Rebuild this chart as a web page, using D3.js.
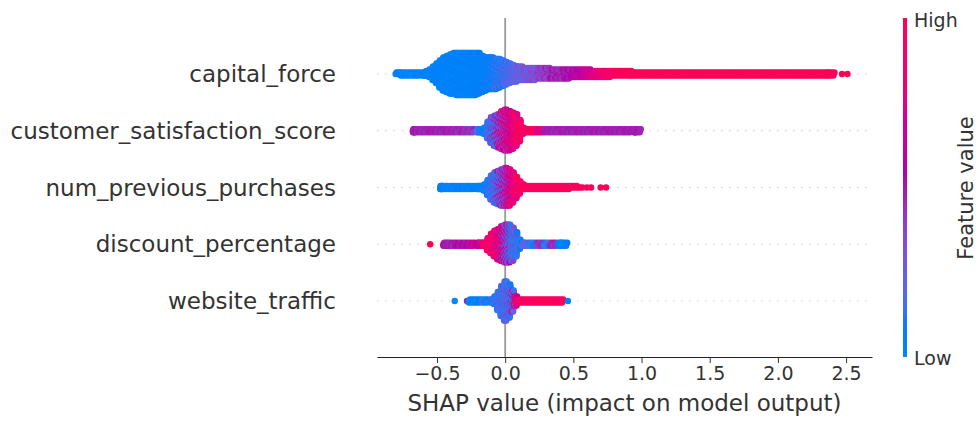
<!DOCTYPE html>
<html>
<head>
<meta charset="utf-8">
<script src="https://cdn.jsdelivr.net/npm/d3@7"></script>
<style>
  body { margin: 0; background: #fff; }
  text { font-family: "DejaVu Sans", sans-serif; }
</style>
</head>
<body>
<svg id="chart"></svg>
<script>
// ---- DATA ----
const features = ['capital_force', 'customer_satisfaction_score', 'num_previous_purchases', 'discount_percentage', 'website_traffic'];
const xTicks = [-0.5, 0, 0.5, 1, 1.5, 2, 2.5];

// each bin: [shap value, number of points, feature value low, feature value high]
const capitalForce = [
  [-0.79, 6, 0, 0.08], [-0.75, 9, 0, 0.08], [-0.70, 9, 0, 0.08], [-0.65, 9, 0, 0.08], [-0.60, 9, 0, 0.08],
  [-0.575, 12, 0, 0.08], [-0.55, 18, 0, 0.08], [-0.525, 30, 0, 0.08], [-0.50, 42, 0, 0.08], [-0.475, 57, 0, 0.08],
  [-0.45, 69, 0, 0.08], [-0.425, 75, 0, 0.08], [-0.40, 81, 0, 0.08], [-0.375, 84, 0, 0.08], [-0.35, 87, 0, 0.08],
  [-0.325, 87, 0, 0.08], [-0.30, 87, 0, 0.08], [-0.275, 87, 0, 0.08], [-0.25, 87, 0, 0.1], [-0.225, 87, 0, 0.1],
  [-0.20, 84, 0, 0.1], [-0.175, 75, 0, 0.1], [-0.15, 69, 0, 0.12], [-0.125, 66, 0, 0.12], [-0.10, 66, 0, 0.15],
  [-0.075, 63, 0, 0.2], [-0.05, 60, 0, 0.25], [-0.025, 54, 0, 0.25], [0.00, 48, 0.05, 0.3], [0.025, 42, 0.08, 0.3],
  [0.05, 36, 0.1, 0.3], [0.075, 33, 0.12, 0.32], [0.10, 30, 0.15, 0.35], [0.15, 27, 0.2, 0.35], [0.20, 27, 0.25, 0.4],
  [0.25, 24, 0.3, 0.45], [0.30, 24, 0.35, 0.5], [0.35, 21, 0.4, 0.55], [0.40, 21, 0.42, 0.55], [0.45, 21, 0.45, 0.58],
  [0.50, 18, 0.5, 0.62], [0.55, 18, 0.55, 0.68], [0.60, 18, 0.62, 0.75], [0.65, 15, 0.7, 0.82], [0.70, 15, 0.78, 0.9],
  [0.75, 15, 0.85, 0.95], [0.80, 12, 0.9, 1], [0.85, 12, 0.92, 1], [0.90, 12, 0.95, 1], [0.95, 9, 0.96, 1],
  [1.00, 9, 0.97, 1], [1.05, 9, 0.97, 1], [1.10, 9, 0.97, 1], [1.15, 9, 0.97, 1], [1.20, 9, 0.97, 1],
  [1.25, 9, 0.97, 1], [1.30, 9, 0.97, 1], [1.35, 9, 0.97, 1], [1.40, 9, 0.97, 1], [1.45, 9, 0.97, 1],
  [1.50, 9, 0.97, 1], [1.55, 9, 0.97, 1], [1.60, 9, 0.97, 1], [1.65, 9, 0.97, 1], [1.70, 9, 0.97, 1],
  [1.75, 9, 0.97, 1], [1.80, 9, 0.97, 1], [1.85, 9, 0.97, 1], [1.90, 9, 0.97, 1], [1.95, 9, 0.97, 1],
  [2.00, 9, 0.97, 1], [2.05, 9, 0.97, 1], [2.10, 9, 0.97, 1], [2.15, 9, 0.97, 1], [2.20, 9, 0.97, 1],
  [2.25, 9, 0.97, 1], [2.30, 9, 0.97, 1], [2.35, 9, 0.97, 1], [2.39, 9, 0.97, 1],
  [2.47, 1, 1, 1], [2.51, 1, 1, 1]
];

const customerSatisfaction = [
  [-0.67, 9, 0.45, 0.52], [-0.65, 9, 0.45, 0.52], [-0.60, 9, 0.45, 0.52], [-0.55, 9, 0.45, 0.52], [-0.50, 9, 0.45, 0.52],
  [-0.45, 9, 0.45, 0.52], [-0.40, 9, 0.45, 0.52], [-0.35, 9, 0.42, 0.52], [-0.30, 9, 0.4, 0.5], [-0.25, 9, 0.4, 0.5],
  [-0.20, 9, 0.05, 0.25], [-0.175, 9, 0, 0.15], [-0.15, 15, 0, 0.15], [-0.125, 36, 0, 0.3], [-0.10, 54, 0, 0.5],
  [-0.075, 63, 0, 0.6], [-0.05, 69, 0.1, 0.8], [-0.025, 78, 0.2, 0.9], [0.00, 84, 0.3, 1], [0.025, 81, 0.4, 1],
  [0.05, 75, 0.55, 1], [0.075, 66, 0.7, 1], [0.10, 45, 0.85, 1], [0.125, 15, 0.9, 1], [0.15, 9, 0.9, 1],
  [0.20, 9, 0.9, 1], [0.25, 9, 0.7, 0.85], [0.30, 9, 0.46, 0.52], [0.35, 9, 0.46, 0.52], [0.40, 9, 0.46, 0.52],
  [0.45, 9, 0.46, 0.52], [0.50, 9, 0.46, 0.52], [0.55, 9, 0.46, 0.52], [0.60, 9, 0.46, 0.52], [0.65, 9, 0.46, 0.52],
  [0.70, 9, 0.46, 0.52], [0.75, 9, 0.46, 0.52], [0.80, 9, 0.46, 0.52], [0.85, 9, 0.46, 0.52], [0.90, 9, 0.46, 0.52],
  [0.95, 9, 0.46, 0.52], [0.97, 9, 0.46, 0.52]
];

const numPreviousPurchases = [
  [-0.47, 9, 0, 0.08], [-0.45, 9, 0, 0.08], [-0.40, 9, 0, 0.08], [-0.35, 9, 0, 0.08], [-0.30, 9, 0, 0.08],
  [-0.25, 9, 0, 0.08], [-0.20, 9, 0, 0.1], [-0.175, 9, 0, 0.1], [-0.15, 15, 0, 0.15], [-0.125, 33, 0, 0.2],
  [-0.10, 51, 0, 0.3], [-0.075, 63, 0, 0.45], [-0.05, 69, 0, 0.6], [-0.025, 75, 0.1, 0.7], [0.00, 78, 0.2, 0.8],
  [0.025, 75, 0.35, 0.9], [0.05, 63, 0.5, 1], [0.075, 45, 0.7, 1], [0.10, 27, 0.85, 1], [0.125, 12, 0.9, 1],
  [0.15, 9, 0.9, 1], [0.20, 9, 0.9, 1], [0.25, 9, 0.92, 1], [0.30, 9, 0.92, 1], [0.35, 9, 0.92, 1],
  [0.40, 9, 0.92, 1], [0.45, 9, 0.92, 1], [0.50, 6, 0.92, 1], [0.55, 3, 0.92, 1], [0.60, 1, 0.95, 1],
  [0.63, 1, 0.95, 1], [0.70, 1, 0.95, 1], [0.74, 1, 0.95, 1]
];

const discountPercentage = [
  [-0.55, 1, 1, 1], [-0.44, 9, 0.45, 0.55], [-0.40, 9, 0.45, 0.55], [-0.35, 9, 0.45, 0.6], [-0.30, 9, 0.48, 0.62],
  [-0.25, 9, 0.5, 0.75], [-0.20, 9, 0.5, 0.7], [-0.175, 9, 0.6, 0.9], [-0.15, 9, 0.7, 1], [-0.125, 27, 0.75, 1],
  [-0.10, 42, 0.8, 1], [-0.075, 54, 0.7, 1], [-0.05, 63, 0.55, 1], [-0.025, 72, 0.35, 0.95], [0.00, 78, 0.15, 0.8],
  [0.025, 78, 0.05, 0.6], [0.05, 69, 0, 0.4], [0.075, 51, 0, 0.35], [0.10, 21, 0, 0.3], [0.125, 9, 0.05, 0.3],
  [0.15, 9, 0.1, 0.3], [0.20, 9, 0, 0.2], [0.25, 9, 0.38, 0.5], [0.30, 9, 0.05, 0.25], [0.35, 9, 0.42, 0.52],
  [0.40, 9, 0, 0.1], [0.43, 9, 0, 0.1]
];

const websiteTraffic = [
  [-0.37, 1, 0, 0], [-0.28, 1, 0.5, 0.5], [-0.25, 9, 0, 0.1], [-0.20, 9, 0, 0.1], [-0.15, 9, 0, 0.2],
  [-0.10, 9, 0, 0.2], [-0.075, 18, 0, 0.25], [-0.05, 39, 0, 0.3], [-0.025, 63, 0, 0.35], [0.00, 81, 0, 0.4],
  [0.025, 69, 0, 0.45], [0.05, 45, 0, 0.6], [0.075, 21, 0.3, 1], [0.10, 9, 0.8, 1], [0.15, 9, 0.9, 1],
  [0.20, 9, 0.9, 1], [0.25, 9, 0.9, 1], [0.30, 9, 0.9, 1], [0.35, 9, 0.9, 1], [0.40, 9, 0.9, 1],
  [0.46, 1, 0.05, 0.05]
];

const featureBins = [capitalForce, customerSatisfaction, numPreviousPurchases, discountPercentage, websiteTraffic];


// shap red_blue colormap: LCH blend, lightness dips to 40 in the middle
function shapRedBlue(t) {
  const l = t < 0.5 ? 54 - 28 * t : 40 + 28 * (t - 0.5);
  const c = 70 + 20 * t;
  const h = 266.93 + (380.32 - 266.93) * t;
  return d3.hcl(h, c, l).formatHex();
}


class BeeswarmPlot {

  constructor(_config, _data) {
    this.config = {
      parentElement: _config.parentElement,
      containerWidth: _config.containerWidth || 979,
      containerHeight: _config.containerHeight || 421,
      plotLeft: 377, plotRight: 872, plotTop: 18, plotBottom: 357,
      rowTop: 74, rowBottom: 301,
      maxBinGap: 0.05,
      subColumns: 3,
      dotRadius: 3.2,
      dotStep: 1.5
    }
    this.data = _data;
    this.initVis();
  }

  initVis() {
    let vis = this;
    const c = vis.config;

    vis.svg = d3.select(c.parentElement)
      .attr('width', c.containerWidth)
      .attr('height', c.containerHeight);

    vis.xScale = d3.scaleLinear()
      .domain([-0.94, 2.69])
      .range([c.plotLeft, c.plotRight]);

    vis.yScale = d3.scalePoint()
      .domain(features)
      .range([c.rowTop, c.rowBottom]);

    vis.colorScale = d3.scaleSequential(shapRedBlue).domain([0, 1]);

    // dotted row guides
    vis.svg.append('g')
      .selectAll('line')
      .data(features)
      .join('line')
      .attr('x1', c.plotLeft)
      .attr('x2', c.plotRight)
      .attr('y1', d => vis.yScale(d))
      .attr('y2', d => vis.yScale(d))
      .attr('stroke', '#cccccc')
      .attr('stroke-width', 1)
      .attr('stroke-dasharray', '1.5,6.5');

    // zero line
    vis.svg.append('line')
      .attr('x1', vis.xScale(0)).attr('x2', vis.xScale(0))
      .attr('y1', c.plotTop).attr('y2', c.plotBottom)
      .attr('stroke', '#999999')
      .attr('stroke-width', 1.8);

    vis.dotGroup = vis.svg.append('g');

    // ---- AXES ----
    vis.xAxis = d3.axisBottom(vis.xScale)
      .tickValues(xTicks)
      .tickSize(6)
      .tickSizeOuter(0)
      .tickFormat(d3.format('.1f'));

    vis.xAxisGroup = vis.svg.append('g')
      .attr('transform', `translate(0, ${c.plotBottom})`)
      .call(vis.xAxis);

    vis.xAxisGroup.select('.domain').attr('stroke', '#222').attr('stroke-width', 1.1);
    vis.xAxisGroup.selectAll('.tick line').attr('stroke', '#333');
    vis.xAxisGroup.selectAll('.tick text')
      .attr('y', 10)
      .attr('font-size', 19)
      .attr('font-family', '"DejaVu Sans", sans-serif')
      .attr('fill', '#333');

    vis.svg.append('text')
      .attr('x', (c.plotLeft + c.plotRight) / 2)
      .attr('y', 411)
      .attr('text-anchor', 'middle')
      .attr('font-size', 23)
      .attr('fill', '#333')
      .text('SHAP value (impact on model output)');

    // feature labels
    vis.svg.append('g')
      .selectAll('text')
      .data(features)
      .join('text')
      .attr('x', 336)
      .attr('y', d => vis.yScale(d))
      .attr('dy', '0.35em')
      .attr('text-anchor', 'end')
      .attr('font-size', 23)
      .attr('fill', '#333')
      .text(d => d);

    // ---- COLOR BAR ----
    const defs = vis.svg.append('defs');
    const grad = defs.append('linearGradient')
      .attr('id', 'shapGradient')
      .attr('x1', 0).attr('y1', 1).attr('x2', 0).attr('y2', 0);
    grad.selectAll('stop')
      .data(d3.range(0, 1.0001, 0.05))
      .join('stop')
      .attr('offset', d => d)
      .attr('stop-color', d => vis.colorScale(d));

    vis.svg.append('rect')
      .attr('x', 903)
      .attr('y', c.plotTop)
      .attr('width', 4)
      .attr('height', c.plotBottom - c.plotTop)
      .attr('fill', 'url(#shapGradient)');

    vis.svg.append('text')
      .attr('x', 914).attr('y', 27)
      .attr('font-size', 19).attr('fill', '#333')
      .text('High');

    vis.svg.append('text')
      .attr('x', 914).attr('y', 365)
      .attr('font-size', 19).attr('fill', '#333')
      .text('Low');

    vis.svg.append('text')
      .attr('transform', 'translate(973, 188) rotate(-90)')
      .attr('text-anchor', 'middle')
      .attr('font-size', 21).attr('fill', '#333')
      .text('Feature value');

    vis.updateVis();
  }

  updateVis() {
    let vis = this;
    const c = vis.config;
    const frac = v => v - Math.floor(v);

    // expand every bin into dots: sub-columns spread over the gap to the next bin,
    // rows stacked out from the centre line
    vis.points = vis.data.flatMap((bins, r) =>
      bins.flatMap(([shap, n, lo, hi], b) => {
        const next = bins[b + 1] ? bins[b + 1][0] : shap + c.maxBinGap;
        const gap = Math.min(next - shap, c.maxBinGap);
        const colPx = (vis.xScale(shap + gap) - vis.xScale(shap)) / c.subColumns;
        return d3.range(n).map(i => {
          const col = i % c.subColumns;
          const row = Math.floor(i / c.subColumns);
          return {
            feature: features[r],
            shap: shap,
            dx: n > 1 ? (col - 1) * colPx + (row % 2 ? colPx / 2 : 0) : 0,
            k: Math.ceil(row / 2) * (row % 2 ? -1 : 1),
            f: lo + (hi - lo) * frac((i + 1) * 0.381966 + b * 0.29)
          };
        });
      })
    );

    vis.dotGroup.selectAll('circle')
      .data(vis.points)
      .join('circle')
      .attr('cx', d => vis.xScale(d.shap) + d.dx)
      .attr('cy', d => vis.yScale(d.feature) + d.k * c.dotStep)
      .attr('r', c.dotRadius)
      .attr('fill', d => vis.colorScale(d.f));
  }
}

new BeeswarmPlot({ parentElement: '#chart', containerWidth: 979, containerHeight: 421 }, featureBins);
</script>
</body>
</html>
